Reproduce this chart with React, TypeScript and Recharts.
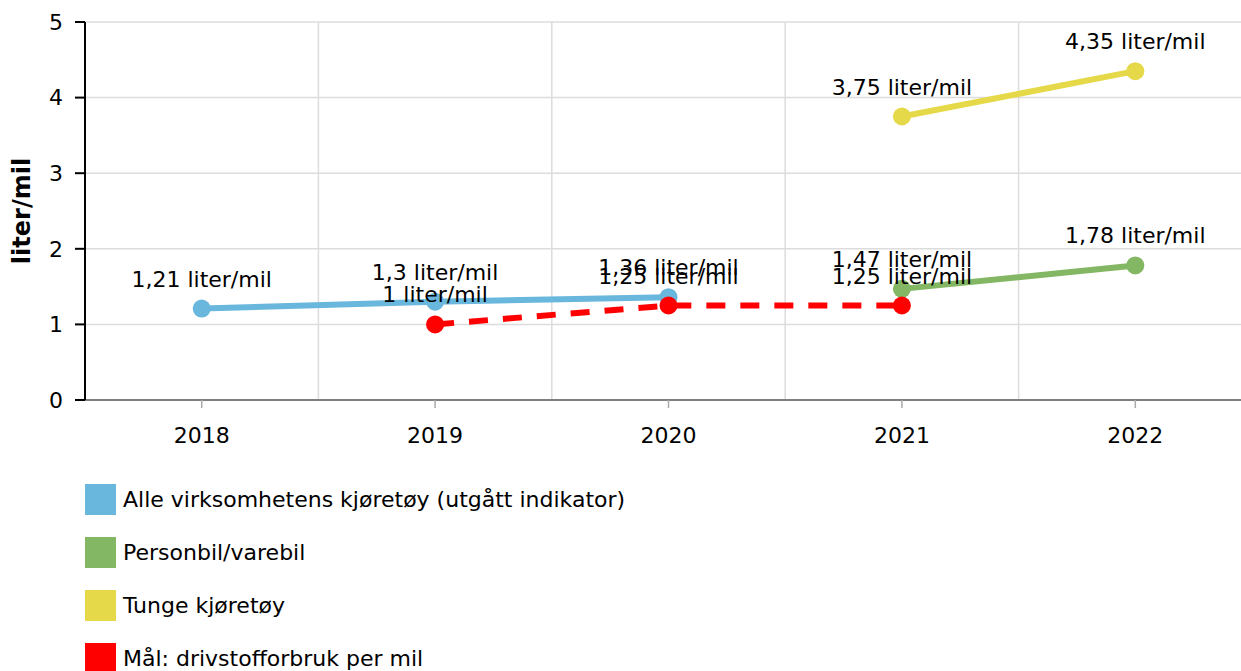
import React from 'react';
import { LineChart, Line, XAxis, YAxis, CartesianGrid, LabelList } from 'recharts';

const years = ['2018', '2019', '2020', '2021', '2022'];
const alle: (number | null)[] = [1.21, 1.3, 1.36, null, null];
const person: (number | null)[] = [null, null, null, 1.47, 1.78];
const tunge: (number | null)[] = [null, null, null, 3.75, 4.35];
const maal: (number | null)[] = [null, 1, 1.25, 1.25, null];
const yTicks = [0, 1, 2, 3, 4, 5];
const gridTicks = [0.5, 1.5, 2.5, 3.5];

const series = [
  { key: 'alle', name: 'Alle virksomhetens kjøretøy (utgått indikator)', color: '#69b7dc', dash: undefined as string | undefined },
  { key: 'person', name: 'Personbil/varebil', color: '#83b763', dash: undefined },
  { key: 'tunge', name: 'Tunge kjøretøy', color: '#e5d94a', dash: undefined },
  { key: 'maal', name: 'Mål: drivstofforbruk per mil', color: '#ff0000', dash: '19 15' },
];

const data = years.map((y, i) => ({
  x: i,
  year: y,
  alle: alle[i],
  person: person[i],
  tunge: tunge[i],
  maal: maal[i],
}));

const FONT = '"DejaVu Sans", Verdana, sans-serif';
const fmt = (v: number) => String(v).replace('.', ',') + ' liter/mil';

const renderLabel = (props: any) => {
  const { x, y, value } = props;
  if (value === null || value === undefined) return null;
  return (
    <text x={x} y={y - 22} textAnchor="middle" fontSize={22} fill="#000" fontFamily={FONT}>
      {fmt(value)}
    </text>
  );
};

export default function App() {
  return (
    <div
      style={{
        width: 1241,
        height: 671,
        overflow: 'hidden',
        fontFamily: FONT,
        position: 'relative',
        boxSizing: 'border-box',
        paddingLeft: 8,
        paddingTop: 8,
        background: '#fff',
      }}
    >
      <style>{`html,body{margin:0;padding:0;overflow:hidden;}`}</style>
      <LineChart
        width={1250}
        height={440}
        data={data}
        margin={{ top: 14, right: 6, bottom: 0, left: 0 }}
      >
        <CartesianGrid xAxisId="grid" stroke="#dcdcdc" strokeWidth={1.5} />
        <XAxis
          xAxisId="grid"
          dataKey="x"
          type="number"
          domain={[-0.5, 4.5]}
          ticks={gridTicks}
          hide
        />
        <XAxis
          dataKey="x"
          type="number"
          domain={[-0.5, 4.5]}
          ticks={[0, 1, 2, 3, 4]}
          tickFormatter={(v: number) => years[v]}
          height={48}
          tickSize={8}
          tickMargin={19}
          axisLine={{ stroke: '#7f7f7f', strokeWidth: 2 }}
          tickLine={{ stroke: '#aaaaaa', strokeWidth: 1.5 }}
          tick={{ fill: '#000', fontSize: 22, fontFamily: FONT }}
          allowDataOverflow
        />
        <YAxis
          type="number"
          domain={[0, 5]}
          ticks={yTicks}
          width={77}
          tickSize={10}
          tickMargin={12}
          axisLine={{ stroke: '#000', strokeWidth: 2 }}
          tickLine={{ stroke: '#000', strokeWidth: 2 }}
          tick={{ fill: '#000', fontSize: 22, fontFamily: FONT }}
          label={{
            content: (p: any) => {
              const vb = p.viewBox;
              const cx = vb.x + 14;
              const cy = vb.y + vb.height / 2;
              return (
                <text
                  x={cx}
                  y={cy}
                  transform={`rotate(-90, ${cx}, ${cy})`}
                  textAnchor="middle"
                  dominantBaseline="central"
                  fontSize={24}
                  fontWeight="bold"
                  fill="#000"
                  fontFamily={FONT}
                >
                  liter/mil
                </text>
              );
            },
          }}
        />
        {series.map((s) => (
          <Line
            key={s.key}
            dataKey={s.key}
            name={s.name}
            type="linear"
            stroke={s.color}
            strokeWidth={6}
            strokeDasharray={s.dash}
            dot={{ r: 9, fill: s.color, stroke: 'none', strokeDasharray: '' } as any}
            activeDot={false}
            isAnimationActive={false}
            connectNulls={false}
          >
            <LabelList dataKey={s.key} content={renderLabel} />
          </Line>
        ))}
      </LineChart>
      <div style={{ position: 'absolute', left: 85, top: 484 }}>
        {series.map((s) => (
          <div key={s.key} style={{ display: 'flex', alignItems: 'center', height: 31, marginBottom: 22 }}>
            <div style={{ width: 31, height: 31, background: s.color }} />
            <span style={{ marginLeft: 7, fontSize: 22, color: '#000', fontFamily: FONT, lineHeight: '31px' }}>
              {s.name}
            </span>
          </div>
        ))}
      </div>
    </div>
  );
}
